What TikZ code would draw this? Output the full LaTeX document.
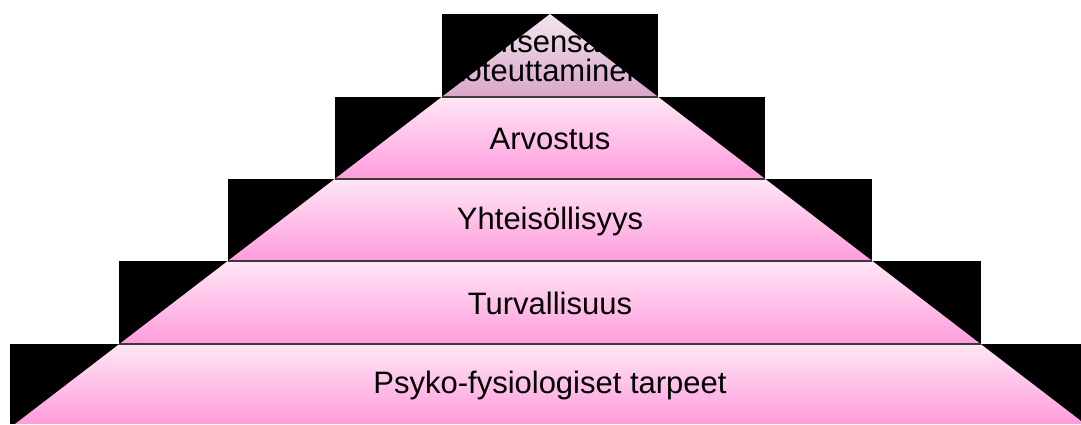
\documentclass[tikz,border=0pt]{standalone}
\usepackage{fontspec}
\setmainfont{Liberation Sans}
\definecolor{segtop}{HTML}{FFE6F5}
\definecolor{segbot}{HTML}{FF9CDC}
\definecolor{peaktop}{HTML}{F3E4EF}
\definecolor{peakbot}{HTML}{D9A6C9}
\definecolor{rule}{HTML}{3A3A3A}
\begin{document}
\begin{tikzpicture}
[x=1pt, y=-1pt,
 step block/.style={fill=black},
 layer/.style={top color=segtop, bottom color=segbot},
 peak/.style={top color=peaktop, bottom color=peakbot},
 divider/.style={draw=rule, line width=1.4pt},
 label/.style={font=\fontsize{31}{29}\selectfont, text=black, align=center}]
\useasboundingbox (0,0) rectangle (1081,424);
% black steps
\fill[step block] (441.7,14) rectangle (658.3,97);
\fill[step block] (334.7,97) rectangle (765.3,179);
\fill[step block] (227.7,179) rectangle (872.3,261);
\fill[step block] (119.4,261) rectangle (980.6,344);
\fill[step block] (10,344) rectangle (1090,424);
% pink layers
\shade[peak] (550,14) -- (658.3,97) -- (441.7,97) -- cycle;
\shade[layer] (441.7,97) -- (658.3,97) -- (765.3,179) -- (334.7,179) -- cycle;
\shade[layer] (334.7,179) -- (765.3,179) -- (872.3,261) -- (227.7,261) -- cycle;
\shade[layer] (227.7,261) -- (872.3,261) -- (980.6,344) -- (119.4,344) -- cycle;
\shade[layer] (119.4,344) -- (980.6,344) -- (1085,424) -- (15,424) -- cycle;
% dividers
\coordinate (d1l) at (441.7,97); \coordinate (d1r) at (658.3,97);
\coordinate (d2l) at (334.7,179); \coordinate (d2r) at (765.3,179);
\coordinate (d3l) at (227.7,261); \coordinate (d3r) at (872.3,261);
\coordinate (d4l) at (119.4,344); \coordinate (d4r) at (980.6,344);
\draw[divider] (d1l) -- (d1r);
\draw[divider] (d2l) -- (d2r);
\draw[divider] (d3l) -- (d3r);
\draw[divider] (d4l) -- (d4r);
% labels
\node[label] (self) at (550,56) {Itsensä\\toteuttaminen};
\node[label] (esteem) at (550,139) {Arvostus};
\node[label] (belong) at (550,221) {Yhteisöllisyys};
\node[label] (safety) at (550,303) {Turvallisuus};
\node[label] (physio) at (550,385) {Psyko-fysiologiset tarpeet};
\end{tikzpicture}
\end{document}
